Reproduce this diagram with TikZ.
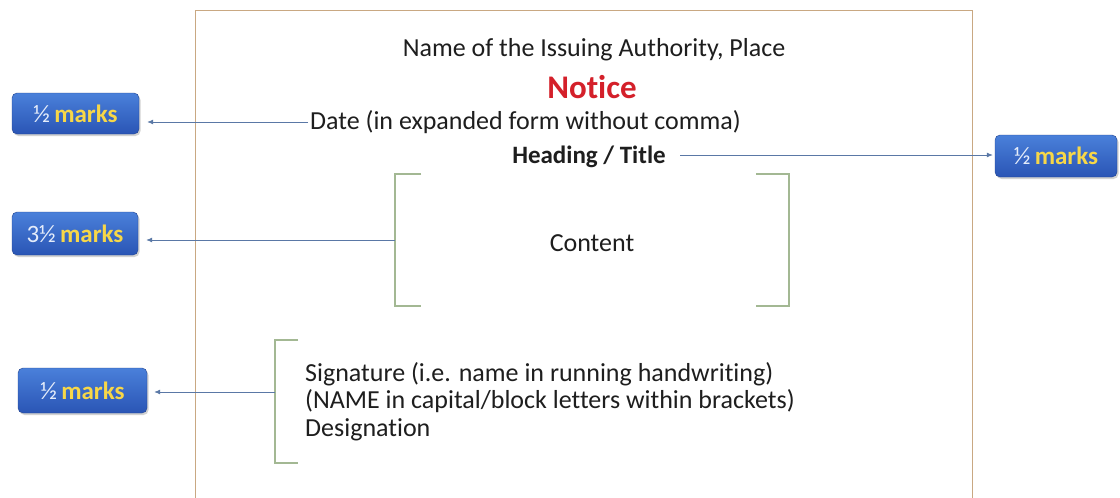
\documentclass[tikz,border=0pt]{standalone}
\usepackage{fontspec}
\setmainfont{Carlito}[Ligatures={NoCommon}]
\usetikzlibrary{arrows.meta,shadows}
\definecolor{frame}{HTML}{C9A882}
\definecolor{brk}{HTML}{A3B893}
\definecolor{arr}{HTML}{5A78A6}
\definecolor{noticered}{HTML}{D4202A}
\definecolor{boxtop}{HTML}{4A80DA}
\definecolor{boxbot}{HTML}{2A55B5}
\definecolor{halfc}{HTML}{E4ECFA}
\definecolor{marksc}{HTML}{F7D748}
\definecolor{txtc}{HTML}{1E1E1E}
\tikzset{
  body/.style={inner sep=0pt, text=txtc, font=\fontsize{26}{28}\selectfont},
  markbox/.style={rounded corners=5pt, top color=boxtop, bottom color=boxbot,
     draw=boxbot!80!black, line width=0.4pt, drop shadow={shadow xshift=1.5pt, shadow yshift=-2pt, opacity=0.35},
     inner sep=0pt, font=\fontsize{25}{27}\selectfont\bfseries},
  pointer/.style={draw=arr, line width=0.8pt, -{Latex[length=6pt,width=5pt]}},
  bracket/.style={draw=brk, line width=1.1pt}
}
\newcommand{\mk}[1]{\textcolor{halfc}{\mdseries #1}\,\textcolor{marksc}{marks}}
\begin{document}
\begin{tikzpicture}[x=1pt,y=-1pt]
\useasboundingbox (0,0) rectangle (1120,498);
\fill[white] (0,0) rectangle (1120,498);
% notice frame
\draw[frame, line width=1pt] (195,505) -- (195,10) -- (972,10) -- (972,505);
% texts
\node[body, anchor=mid] (auth) at (594,54) {Name of the Issuing Authority, Place};
\node[inner sep=0pt, anchor=mid, text=noticered, font=\fontsize{33}{35}\selectfont\bfseries] (notice) at (592,96) {Notice};
\node[body, anchor=mid west] (date) at (310,127) {Date (in expanded form without comma)};
\node[body, anchor=mid, font=\fontsize{25}{28}\selectfont\bfseries] (head) at (589,161) {Heading / Title};
\node[body, anchor=mid] (content) at (592,249) {Content};
\node[body, anchor=north west, align=left, font=\fontsize{26}{27.5}\selectfont] (sig) at (305,362) {Signature (i.e. name in running handwriting)\\(NAME in capital/block letters within brackets)\\Designation};
% brackets
\draw[bracket] (421,174) -- (395,174) -- (395,306) -- (421,306);
\draw[bracket] (756,174) -- (789,174) -- (789,306) -- (756,306);
\draw[bracket] (298,340) -- (275,340) -- (275,463) -- (298,463);
\coordinate (cb) at (395,240);
\coordinate (sb) at (275,392);
\coordinate (db) at (308,122);
\coordinate (hb) at (680,155);
% mark boxes
\node[markbox, minimum width=127pt, minimum height=41pt] (m1) at (75.5,113.5) {\mk{½}};
\node[markbox, minimum width=126pt, minimum height=43pt] (m2) at (75,233.5) {\mk{3½}};
\node[markbox, minimum width=129pt, minimum height=45pt] (m3) at (82.5,390.5) {\mk{½}};
\node[markbox, minimum width=122pt, minimum height=42pt] (m4) at (1056,156) {\mk{½}};
% pointers
\draw[pointer, shorten >=8pt] (db) -- (db -| m1.east);
\draw[pointer, shorten >=8pt] (cb) -- (cb -| m2.east);
\draw[pointer, shorten >=7pt] (sb) -- (sb -| m3.east);
\draw[pointer, shorten >=2pt] (hb) -- (hb -| m4.west);
\end{tikzpicture}
\end{document}
